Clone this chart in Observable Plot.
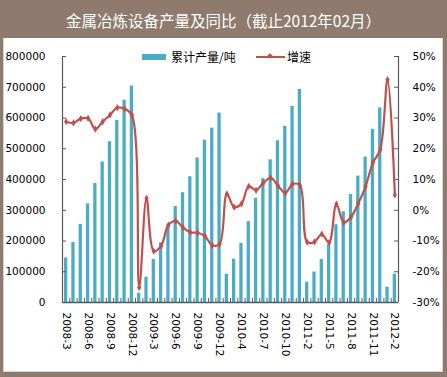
<!DOCTYPE html>
<html>
<head>
<meta charset="utf-8">
<script src="https://cdn.jsdelivr.net/npm/d3@7"></script>
<script src="https://cdn.jsdelivr.net/npm/@observablehq/plot@0.6"></script>
<style>
html,body{margin:0;padding:0;background:#fff;}
#wrap{position:relative;width:447px;height:377px;background:#8E7B6E;overflow:hidden;}
#title{position:absolute;left:0;top:0;width:447px;height:38px;line-height:40px;text-align:center;color:#fff;font-family:"Noto Sans CJK SC";font-size:15.5px;}
#body{position:absolute;left:3px;top:38px;width:438px;height:332px;background:#fff;border:1px solid #d4d4d4;border-top-color:#fff;}
#chart{position:absolute;left:0;top:0;}
.lg{position:absolute;font-family:"Noto Sans CJK SC";font-size:12px;color:#000;line-height:14px;}
</style>
</head>
<body>
<div id="wrap">
  <div id="title">金属冶炼设备产量及同比（截止2012年02月）</div>
  <div id="body"></div>
  <div id="chart"></div>
  <div style="position:absolute;left:142px;top:54px;width:24px;height:6px;background:#4BACC6;"></div>
  <div class="lg" style="left:171px;top:50px;">累计产量/吨</div>
  <div style="position:absolute;left:256px;top:56px;width:29px;height:2.4px;background:#C0504D;"></div>
  <div style="position:absolute;left:268px;top:54px;width:4px;height:4px;background:#C0504D;transform:rotate(45deg);"></div>
  <div class="lg" style="left:287px;top:50px;">增速</div>
</div>
<script>
const months = [
  "2008-3","2008-4","2008-5","2008-6","2008-7","2008-8","2008-9","2008-10","2008-11","2008-12",
  "2009-1","2009-2","2009-3","2009-4","2009-5","2009-6","2009-7","2009-8","2009-9","2009-10","2009-11","2009-12",
  "2010-2","2010-3","2010-4","2010-5","2010-6","2010-7","2010-8","2010-9","2010-10","2010-11","2010-12",
  "2011-2","2011-3","2011-4","2011-5","2011-6","2011-7","2011-8","2011-9","2011-10","2011-11","2011-12",
  "2012-1","2012-2"
];
const output = [
  145000,195000,254000,321000,387000,457000,523000,592000,658000,704000,
  30000,82000,140000,194000,252000,312000,357000,409000,470000,528000,567000,616000,
  92000,141000,192000,263000,339000,403000,464000,526000,573000,638000,693000,
  66000,99000,140000,188000,253000,295000,351000,411000,473000,563000,633000,
  50000,92000
];
const growth = [
  28.8,28.4,29.8,29.9,26.4,28.8,31.0,33.4,33.0,31.0,
  -25.1,3.9,-13.3,-11.6,-4.8,-3.5,-5.6,-7.2,-7.3,-8.4,-11.4,-11.0,
  5.3,1.0,2.1,7.8,6.5,8.9,10.5,8.0,5.6,8.5,8.1,
  -10.4,-10.3,-7.8,-10.5,2.0,-4.0,-2.2,2.3,7.8,15.5,19.7,
  42.5,5.0
];
const leftTicks = [0,100000,200000,300000,400000,500000,600000,700000,800000];
const pctTicks = [-30,-20,-10,0,10,20,30,40,50];
const xLabels = months.filter((d,i) => i % 3 === 0);

const W = 447, H = 377, mL = 62, mR = 49, mT = 56, mB = 75;
const innerW = W - mL - mR, innerH = H - mT - mB;
const step = innerW / months.length;
const toY = p => (p + 30) * 10000; // map right axis (-30%..50%) onto left domain
const rows = months.map((m, i) => ({m, v: output[i], g: growth[i]}));
const axisColor = "#595959";

const chart = Plot.plot({
  width: W, height: H,
  marginLeft: mL, marginRight: mR, marginTop: mT, marginBottom: mB,
  style: {fontFamily: "DejaVu Sans", fontSize: "10.5px", background: "transparent", overflow: "visible", color: "#000"},
  x: {type: "band", domain: months, paddingInner: 0.55, paddingOuter: 0.275, round: false},
  y: {domain: [0, 800000]},
  marks: [
    Plot.barY(rows, {x: "m", y: "v", fill: "#4BACC6"}),
    Plot.ruleY([0], {stroke: axisColor, strokeWidth: 1.3}),
    Plot.ruleX([months[0]], {x: d => d, dx: -step/2, stroke: axisColor, strokeWidth: 1.2}),
    Plot.ruleX([months[months.length-1]], {x: d => d, dx: step/2, stroke: axisColor, strokeWidth: 1.2}),
    Plot.ruleX(months, {x: d => d, dx: -step/2, insetTop: innerH - 4, stroke: axisColor}),
    Plot.ruleY(leftTicks, {y: d => d, insetRight: innerW - 4, stroke: axisColor}),
    Plot.ruleY(pctTicks.map(toY), {y: d => d, insetLeft: innerW - 4, stroke: axisColor}),
    Plot.line(rows, {x: "m", y: d => toY(d.g), curve: "catmull-rom", stroke: "#C0504D", strokeWidth: 2.2}),
    Plot.dot(rows, {x: "m", y: d => toY(d.g), symbol: "diamond", r: 2.2, fill: "#C0504D"}),
    Plot.axisY(leftTicks, {anchor: "left", tickSize: 0, tickPadding: 17, tickFormat: d => String(d), label: null, fill: "#000"}),
    Plot.axisY(pctTicks.map(toY), {anchor: "right", tickSize: 0, tickPadding: 14, tickFormat: d => Math.round(d/10000 - 30) + "%", label: null, fill: "#000"}),
    Plot.axisX(xLabels, {anchor: "bottom", tickSize: 0, tickPadding: 10, tickRotate: 90, label: null, fill: "#000"})
  ]
});
document.getElementById("chart").appendChild(chart);
</script>
</body>
</html>
